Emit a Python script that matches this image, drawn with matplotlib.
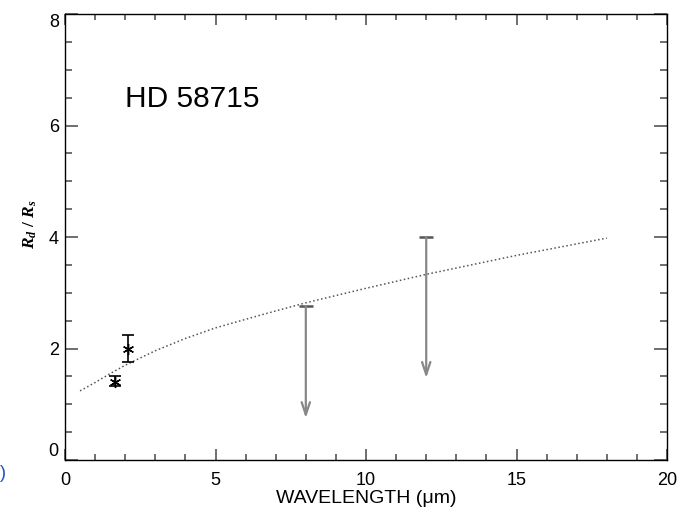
import matplotlib
matplotlib.use("Agg")
import matplotlib.pyplot as plt
from matplotlib.ticker import MultipleLocator

plt.rcParams['font.family'] = ['Liberation Sans', 'DejaVu Sans']
plt.rcParams['mathtext.fontset'] = 'custom'
plt.rcParams['mathtext.it'] = 'Liberation Serif:italic:bold'
plt.rcParams['mathtext.rm'] = 'Liberation Serif:bold'

# measured points with error bars
wave_pts = [1.65, 2.1]
ratio_pts = [1.40, 2.00]
ratio_lo = [0.08, 0.24]
ratio_hi = [0.10, 0.25]

# upper limits (top of bar -> arrow tip)
wave_lim = [8.0, 12.0]
ratio_lim = [2.76, 4.00]
ratio_tip = [0.75, 1.47]

# dotted model curve
wave_model = [0.5, 1.0, 1.5, 2.0, 3.0, 4.0, 5.0, 6.5, 8.0, 10.0, 12.0, 15.0, 18.0]
ratio_model = [1.24, 1.39, 1.55, 1.70, 1.96, 2.18, 2.37, 2.60, 2.82, 3.08, 3.33, 3.67, 3.98]

# axis ticks
x_major = [0, 5, 10, 15, 20]
y_major = [0, 2, 4, 6, 8]

fig = plt.figure(figsize=(6.83, 5.11), dpi=100)
ax = fig.add_axes([0.0952, 0.0998, 0.8814, 0.8728])

ax.plot(wave_model, ratio_model, linestyle=':', color='#555555', lw=1.1)

ax.errorbar(wave_pts, ratio_pts, yerr=[ratio_lo, ratio_hi], fmt='none',
            ecolor='black', elinewidth=1.2, capsize=4.5, capthick=1.2)
ax.plot(wave_pts, ratio_pts, linestyle='none', marker=(6, 2, 0),
        ms=8, mec='black', mew=1.0)

for x, top, tip in zip(wave_lim, ratio_lim, ratio_tip):
    ax.annotate('', xy=(x, tip), xytext=(x, top),
                arrowprops=dict(arrowstyle='->, head_length=0.9, head_width=0.3',
                                color='#888888', lw=1.6, shrinkA=0, shrinkB=0))
    ax.plot([x], [top], marker='_', ms=10, mew=1.8, color='#555555')

ax.text(2.0, 6.33, 'HD 58715', fontsize=21.5, va='baseline', ha='left')

ax.set_xlim(0, 20)
ax.set_ylim(0, 8)
ax.set_xticks(x_major)
ax.set_yticks(y_major)
ax.xaxis.set_minor_locator(MultipleLocator(1))
ax.yaxis.set_minor_locator(MultipleLocator(0.5))
ax.tick_params(which='both', direction='in', top=True, right=True,
               color='#555555', width=1.2, labelsize=13)
ax.tick_params(axis='x', which='major', length=8, pad=8.5)
ax.tick_params(axis='x', which='minor', length=4)
ax.tick_params(axis='y', which='major', length=9.7, pad=4.5)
ax.tick_params(axis='y', which='minor', length=5)
for s in ax.spines.values():
    s.set_linewidth(1.0)

# end labels on the y axis sit inside the frame
yticks = ax.yaxis.get_major_ticks()
yticks[0].label1.set_va('bottom')
yticks[-1].label1.set_va('top')

ax.set_xlabel('WAVELENGTH (\u03bcm)', fontsize=14, labelpad=1)
ax.set_ylabel(r'$R_d\ /\ R_s$', fontsize=12.5, labelpad=7, y=0.53)

fig.text(0.0, 0.065, ')', color='#1f4fbf', fontsize=13)

fig.savefig('out.png', dpi=100)
